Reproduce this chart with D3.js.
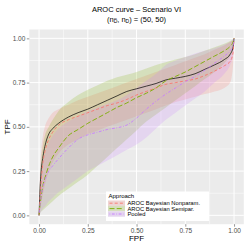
<!DOCTYPE html>
<html>
<head>
<script src="https://cdnjs.cloudflare.com/ajax/libs/d3/7.8.5/d3.min.js"></script>
<style>
  body { margin: 0; background: #fff; }
  svg { font-family: "Liberation Sans", Arial, sans-serif; }
</style>
</head>
<body>
<div id="chart"></div>
<script>
// FPF grid shared by all curves
const fpf = [0, 0.005, 0.01, 0.02, 0.03, 0.05, 0.07, 0.1, 0.15, 0.2, 0.25, 0.3, 0.35, 0.4, 0.45,
             0.5, 0.55, 0.6, 0.65, 0.7, 0.75, 0.8, 0.85, 0.9, 0.95, 0.98, 0.995, 1];

// true curve
const tpfTrue = [0, .15, .24, .33, .39, .46, .49, .52, .555, .58, .60, .625, .65, .675, .70,
                 .715, .73, .745, .765, .775, .785, .80, .825, .85, .88, .91, .95, 1];

// AROC Bayesian Nonparam.
const npEst = [0, .10, .18, .30, .36, .43, .47, .51, .54, .56, .58, .60, .62, .635, .655,
               .68, .70, .72, .74, .75, .76, .77, .79, .815, .845, .87, .92, 1];
const npUp  = [0, .25, .35, .45, .50, .55, .58, .60, .625, .65, .67, .69, .71, .73, .75,
               .77, .79, .81, .83, .85, .87, .89, .91, .935, .96, .98, .99, 1];
const npLow = [0, .03, .06, .12, .17, .25, .30, .35, .40, .43, .46, .48, .50, .52, .54,
               .56, .58, .60, .62, .64, .655, .67, .685, .70, .72, .75, .85, 1];

// AROC Bayesian Semipar.
const spEst = [0, .06, .10, .17, .21, .28, .33, .38, .45, .485, .52, .55, .58, .61, .635,
               .665, .69, .72, .76, .785, .81, .84, .87, .90, .93, .955, .98, 1];
const spUp  = [0, .20, .30, .40, .45, .50, .54, .59, .64, .68, .71, .735, .76, .78, .795,
               .81, .83, .85, .865, .88, .895, .91, .93, .95, .97, .985, .995, 1];
const spLow = [0, .01, .02, .03, .04, .06, .08, .11, .15, .19, .23, .28, .33, .38, .43,
               .48, .53, .57, .61, .65, .69, .73, .77, .81, .86, .90, .94, 1];

// Pooled
const poEst = [0, .06, .10, .16, .20, .25, .28, .32, .38, .43, .455, .47, .485, .495, .51,
               .55, .60, .645, .685, .72, .755, .785, .82, .86, .90, .93, .96, 1];
const poUp  = [0, .15, .22, .30, .35, .41, .45, .49, .53, .56, .59, .61, .63, .65, .68,
               .72, .76, .80, .85, .875, .895, .915, .93, .945, .965, .98, .99, 1];
const poLow = [0, .01, .02, .04, .05, .08, .10, .13, .17, .21, .25, .28, .31, .34, .37,
               .40, .44, .49, .54, .58, .62, .66, .70, .75, .80, .85, .90, 1];

const approaches = ["AROC Bayesian Nonparam.", "AROC Bayesian Semipar.", "Pooled"];
const colors = ["#F8766D", "#7CAE00", "#C77CFF"];
const dashes = ["3,2.2", "5,2.2", "0.8,1.6,2.8,1.6"];
const ticks = [0, 0.25, 0.5, 0.75, 1];
const minorTicks = [0.125, 0.375, 0.625, 0.875];

const series = [
  {name: approaches[0], est: npEst, up: npUp, low: npLow},
  {name: approaches[1], est: spEst, up: spUp, low: spLow},
  {name: approaches[2], est: poEst, up: poUp, low: poLow}
];

const W = 245, H = 245;
const panel = {left: 29.3, right: 243.8, top: 29.5, bottom: 224.2};

const svg = d3.select("#chart").append("svg")
  .attr("width", W).attr("height", H);

// 5% expansion like ggplot
const x = d3.scaleLinear().domain([-0.05, 1.05]).range([panel.left, panel.right]);
const y = d3.scaleLinear().domain([-0.05, 1.05]).range([panel.bottom, panel.top]);

svg.append("rect")
  .attr("x", panel.left).attr("y", panel.top)
  .attr("width", panel.right - panel.left).attr("height", panel.bottom - panel.top)
  .attr("fill", "#EBEBEB");

const grid = svg.append("g");
minorTicks.forEach(t => {
  grid.append("line").attr("x1", x(t)).attr("x2", x(t)).attr("y1", panel.top).attr("y2", panel.bottom)
    .attr("stroke", "#fff").attr("stroke-width", 0.5);
  grid.append("line").attr("y1", y(t)).attr("y2", y(t)).attr("x1", panel.left).attr("x2", panel.right)
    .attr("stroke", "#fff").attr("stroke-width", 0.5);
});
ticks.forEach(t => {
  grid.append("line").attr("x1", x(t)).attr("x2", x(t)).attr("y1", panel.top).attr("y2", panel.bottom)
    .attr("stroke", "#fff").attr("stroke-width", 1);
  grid.append("line").attr("y1", y(t)).attr("y2", y(t)).attr("x1", panel.left).attr("x2", panel.right)
    .attr("stroke", "#fff").attr("stroke-width", 1);
});

// bands
const area = d3.area()
  .x((d, i) => x(fpf[i]))
  .y0(d => y(d[0]))
  .y1(d => y(d[1]))
  .curve(d3.curveMonotoneX);

series.forEach((s, k) => {
  svg.append("path")
    .datum(s.low.map((v, i) => [v, s.up[i]]))
    .attr("d", area)
    .attr("fill", colors[k])
    .attr("fill-opacity", 0.2);
});

const line = d3.line()
  .x((d, i) => x(fpf[i]))
  .y(d => y(d))
  .curve(d3.curveMonotoneX);

svg.append("path")
  .datum(tpfTrue)
  .attr("d", line)
  .attr("fill", "none")
  .attr("stroke", "#000")
  .attr("stroke-width", 0.7);

series.forEach((s, k) => {
  svg.append("path")
    .datum(s.est)
    .attr("d", line)
    .attr("fill", "none")
    .attr("stroke", colors[k])
    .attr("stroke-width", 0.9)
    .attr("stroke-dasharray", dashes[k]);
});

// axes
const fmt = d3.format(".2f");
const xAxis = svg.append("g")
  .attr("transform", `translate(0,${panel.bottom})`)
  .call(d3.axisBottom(x).tickValues(ticks).tickFormat(fmt).tickSize(2.5).tickPadding(1.5));
const yAxis = svg.append("g")
  .attr("transform", `translate(${panel.left},0)`)
  .call(d3.axisLeft(y).tickValues(ticks).tickFormat(fmt).tickSize(2.5).tickPadding(1.5));
[xAxis, yAxis].forEach(a => {
  a.select(".domain").remove();
  a.selectAll(".tick line").attr("stroke", "#333").attr("stroke-width", 0.5);
  a.selectAll(".tick text").attr("fill", "#4D4D4D").style("font-size", "6.5px");
});

// axis titles
svg.append("text")
  .attr("x", (panel.left + panel.right) / 2).attr("y", 240.5)
  .attr("text-anchor", "middle").attr("font-size", "8px").attr("fill", "#000")
  .text("FPF");
svg.append("text")
  .attr("transform", `translate(9.5,${(panel.top + panel.bottom) / 2}) rotate(-90)`)
  .attr("text-anchor", "middle").attr("font-size", "8px").attr("fill", "#000")
  .text("TPF");

// titles
const cx = (panel.left + panel.right) / 2;
svg.append("text")
  .attr("x", cx).attr("y", 11.5)
  .attr("text-anchor", "middle").attr("font-size", "7.5px")
  .text("AROC curve \u2013 Scenario VI");
const sub = svg.append("text")
  .attr("x", cx).attr("y", 21.5)
  .attr("text-anchor", "middle").attr("font-size", "7.5px");
sub.append("tspan").text("(n");
sub.append("tspan").attr("font-size", "5px").attr("dy", 1.5).text("D\u0305");
sub.append("tspan").attr("dy", -1.5).text(", n");
sub.append("tspan").attr("font-size", "5px").attr("dy", 1.5).text("D");
sub.append("tspan").attr("dy", -1.5).text(") = (50, 50)");

// legend
const lg = svg.append("g").attr("transform", "translate(106,191.5)");
lg.append("rect").attr("width", 103).attr("height", 29.5).attr("fill", "#fff");
lg.append("text").attr("x", 2.5).attr("y", 6).attr("font-size", "6px").text("Approach");
approaches.forEach((name, k) => {
  const gy = 9 + k * 5.4;
  const row = lg.append("g").attr("transform", `translate(2,${gy})`);
  row.append("rect").attr("width", 17).attr("height", 5.4).attr("fill", "#EBEBEB");
  row.append("rect").attr("width", 17).attr("height", 5.4).attr("fill", colors[k]).attr("fill-opacity", 0.2);
  row.append("line").attr("x1", 1.5).attr("x2", 15.5).attr("y1", 2.7).attr("y2", 2.7)
    .attr("stroke", colors[k]).attr("stroke-width", 0.9).attr("stroke-dasharray", dashes[k]);
  row.append("text").attr("x", 19.5).attr("y", 4.6).attr("font-size", "5.8px").text(name);
});
</script>
</body>
</html>
